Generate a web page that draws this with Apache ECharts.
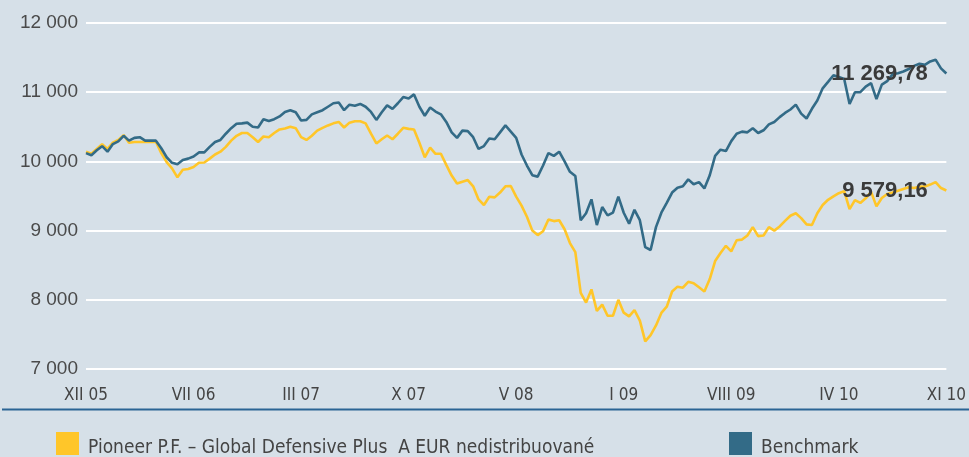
<!DOCTYPE html>
<html>
<head>
<meta charset="utf-8">
<script src="https://cdn.jsdelivr.net/npm/echarts@6/dist/echarts.min.js"></script>
<style>
html,body{margin:0;padding:0;background:#d6e0e8;}
#chart{width:969px;height:457px;}
</style>
</head>
<body>
<div id="chart"></div>
<script>
var tickLabels = ['XII 05','VII 06','III 07','X 07','V 08','I 09','VIII 09','IV 10','XI 10'];
var seriesNames = ['Pioneer P.F. \u2013 Global Defensive Plus  A EUR nedistribuovan\u00e9', 'Benchmark'];

var fund = [10140,10110,10180,10250,10180,10270,10310,10380,10270,10280,
10280,10280,10280,10285,10120,9990,9900,9770,9880,9890,
9920,9980,9985,10040,10100,10140,10210,10300,10370,10410,
10410,10350,10280,10360,10350,10410,10462,10475,10500,10480,
10350,10310,10370,10445,10485,10520,10550,10570,10490,10560,
10580,10580,10550,10400,10260,10320,10375,10320,10400,10485,
10470,10462,10270,10060,10200,10110,10110,9950,9795,9680,
9705,9730,9640,9450,9370,9490,9480,9550,9640,9644,
9490,9360,9200,9000,8935,8990,9160,9137,9150,9020,
8820,8690,8100,7960,8150,7840,7930,7770,7770,8000,
7814,7760,7850,7700,7400,7490,7630,7810,7900,8120,
8190,8175,8260,8240,8180,8120,8300,8560,8676,8780,
8700,8860,8870,8930,9050,8920,8930,9050,9000,9060,
9140,9215,9250,9180,9090,9080,9250,9370,9445,9495,
9540,9570,9310,9440,9400,9466,9560,9350,9470,9530,
9550,9575,9600,9625,9615,9635,9635,9665,9700,9615,
9579.16];

var bench = [10120,10090,10160,10220,10140,10250,10290,10370,10300,10340,
10350,10300,10300,10300,10190,10060,9980,9960,10020,10040,
10070,10130,10130,10210,10280,10310,10400,10480,10545,10550,
10560,10500,10490,10610,10585,10610,10650,10715,10740,10710,
10590,10600,10680,10710,10740,10790,10840,10850,10740,10820,
10805,10830,10790,10715,10600,10710,10810,10760,10840,10930,
10910,10968,10790,10660,10780,10720,10680,10570,10420,10340,
10445,10438,10350,10180,10221,10330,10320,10420,10520,10430,
10340,10100,9940,9800,9780,9940,10120,10080,10140,10000,
9850,9790,9150,9250,9451,9080,9340,9220,9260,9490,
9258,9100,9300,9150,8760,8720,9050,9259,9400,9550,
9620,9640,9740,9670,9700,9610,9800,10080,10170,10150,
10293,10400,10430,10420,10480,10410,10450,10535,10570,10640,
10700,10750,10820,10690,10620,10760,10880,11056,11150,11245,
11220,11190,10830,11000,11000,11080,11130,10900,11110,11160,
11260,11273,11300,11335,11380,11410,11395,11445,11470,11345,
11269.78];

var categories = fund.map(function(_, i){ return i; });
var labelStep = (categories.length - 1) / (tickLabels.length - 1);

function thousands(s){ return s.replace(/\B(?=(\d{3})+(?!\d))/g, ' '); }
function fmtValue(v){ var p = v.toFixed(2).split('.'); return thousands(p[0]) + ',' + p[1]; }

var NARROW = '"Liberation Sans Narrow", "DejaVu Sans Condensed", sans-serif';
var YELLOW = '#ffc629';
var BLUE = '#336b87';

function endMark(arr){
  return {
    silent: true,
    symbol: 'circle',
    symbolSize: 1,
    itemStyle: {color: 'rgba(0,0,0,0)'},
    label: {
      show: true, position: 'left', distance: 18,
      formatter: function(){ return fmtValue(arr[arr.length-1]); },
      fontFamily: '"Liberation Sans", Arial, sans-serif',
      fontWeight: 'bold', fontSize: 22, color: '#3a3a3a'
    },
    data: [{coord: [arr.length - 1, arr[arr.length - 1]]}]
  };
}

var legendText = {
  fontFamily: NARROW, fontSize: 19, color: '#444',
  rich: {t: {fontFamily: NARROW, fontSize: 19, color: '#444', padding: [10, 0, 0, 4]}}
};
function legendFmt(name){ return '{t|' + name + '}'; }

var chart = echarts.init(document.getElementById('chart'), null, {renderer: 'canvas'});
chart.setOption({
  backgroundColor: '#d6e0e8',
  animation: false,
  grid: {left: 86, right: 20, top: 23, bottom: 88, containLabel: false},
  legend: [
    {data: [seriesNames[0]], left: 56, top: 432, padding: 0, icon: 'rect', itemWidth: 23, itemHeight: 23, itemGap: 0,
     textStyle: legendText, formatter: legendFmt, selectedMode: false},
    {data: [seriesNames[1]], left: 729, top: 432, padding: 0, icon: 'rect', itemWidth: 23, itemHeight: 23, itemGap: 0,
     textStyle: legendText, formatter: legendFmt, selectedMode: false}
  ],
  xAxis: {
    type: 'category', data: categories, boundaryGap: false,
    axisLine: {show: false}, axisTick: {show: false}, splitLine: {show: false},
    axisLabel: {
      interval: labelStep - 1, margin: 18,
      fontFamily: NARROW, fontSize: 17, color: '#444',
      formatter: function(v, idx){ return tickLabels[Math.round(idx / labelStep)]; }
    }
  },
  yAxis: {
    type: 'value', min: 7000, max: 12000, interval: 1000,
    axisLine: {show: false}, axisTick: {show: false},
    splitLine: {show: true, lineStyle: {color: '#ffffff', width: 2}},
    axisLabel: {margin: 8, fontFamily: '"Liberation Sans", Arial, sans-serif', fontSize: 19, color: '#4a4a4a',
      formatter: function(v){ return thousands(String(v)); }}
  },
  graphic: [{
    type: 'line', silent: true,
    shape: {x1: 2, y1: 409.5, x2: 969, y2: 409.5},
    style: {stroke: '#2b6494', lineWidth: 2}
  }],
  series: [
    {name: seriesNames[0], type: 'line', data: fund, showSymbol: false, color: YELLOW,
     itemStyle: {color: YELLOW}, lineStyle: {color: YELLOW, width: 2.6}, markPoint: endMark(fund)},
    {name: seriesNames[1], type: 'line', data: bench, showSymbol: false, color: BLUE,
     itemStyle: {color: BLUE}, lineStyle: {color: BLUE, width: 2.6}, markPoint: endMark(bench)}
  ]
});
</script>
</body>
</html>
